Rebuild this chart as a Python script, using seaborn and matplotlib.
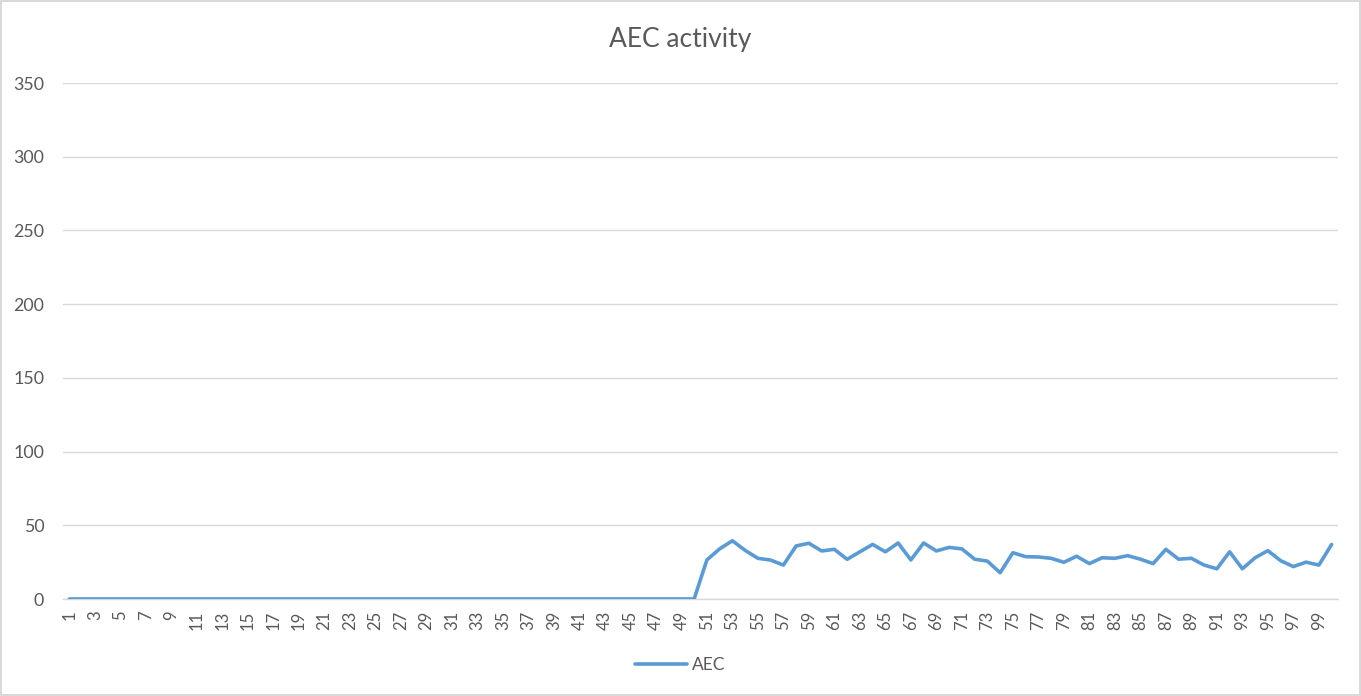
import numpy as np
import pandas as pd
import matplotlib
matplotlib.use("Agg")
import matplotlib.pyplot as plt
import seaborn as sns

# AEC activity per sample: idle for the first 50 samples, then active
samples = list(range(1, 101))
aec_idle = [0] * 50
aec_active = [
    26.5, 34, 39.5, 33, 27.6, 26.4, 23, 36, 37.8, 32.6,
    33.7, 26.9, 32, 37, 32, 38, 26.5, 38, 32.6, 35,
    34, 27, 25.7, 17.8, 31.4, 28.7, 28.5, 27.6, 24.9, 29,
    24, 28, 27.6, 29.4, 27, 24, 33.7, 27, 27.6, 23,
    20.5, 32, 20.5, 28, 32.8, 26, 22, 25, 23, 37,
]
aec_values = aec_idle + aec_active
y_ticks = [0, 50, 100, 150, 200, 250, 300, 350]
x_tick_labels = [str(s) for s in samples if s % 2 == 1]

df = pd.DataFrame({"sample": samples, "AEC": aec_values})

sns.set_theme(style="white")
plt.rcParams["font.family"] = ["Lato", "DejaVu Sans"]

grey_text = "#595959"
grid_col = "#D9D9D9"
line_col = "#5B9BD5"

fig = plt.figure(figsize=(13.61, 6.96), dpi=100)
fig.patch.set_facecolor("white")
fig.patch.set_edgecolor(grid_col)
fig.patch.set_linewidth(1.5)

ax = fig.add_axes([63 / 1361, 1 - 599 / 696, (1338 - 63) / 1361, (599 - 83) / 696])

sns.lineplot(data=df, x="sample", y="AEC", ax=ax, color=line_col,
             linewidth=2.6, label="AEC", legend=False, zorder=3)

ax.set_xlim(0.5, 100.5)
ax.set_ylim(0, 350)
ax.set_yticks(y_ticks)
ax.set_yticklabels([str(v) for v in y_ticks], color=grey_text, fontsize=12.8)
ax.set_xticks([s for s in samples if s % 2 == 1])
ax.set_xticklabels(x_tick_labels, rotation=90, color=grey_text, fontsize=12,
                   va="top", ha="center")
ax.tick_params(axis="both", length=0)
ax.tick_params(axis="y", pad=13.5)
ax.tick_params(axis="x", pad=8.5)

ax.yaxis.grid(True, color=grid_col, linewidth=1)
ax.xaxis.grid(False)
for side in ["top", "right", "left"]:
    ax.spines[side].set_visible(False)
ax.spines["bottom"].set_color(grid_col)
ax.spines["bottom"].set_linewidth(1)

ax.set_xlabel("")
ax.set_ylabel("")

fig.text(0.5, 1 - 39 / 696, "AEC activity", ha="center", va="center",
         fontsize=19, color=grey_text)

handles, labels = ax.get_legend_handles_labels()
fig.legend(handles, labels, loc="center", bbox_to_anchor=(0.5, 1 - 665 / 696),
           frameon=False, fontsize=12.5, handlelength=3.0, handletextpad=0.3,
           labelcolor=grey_text)

fig.savefig("out.png", dpi=100, facecolor="white", edgecolor=grid_col)
